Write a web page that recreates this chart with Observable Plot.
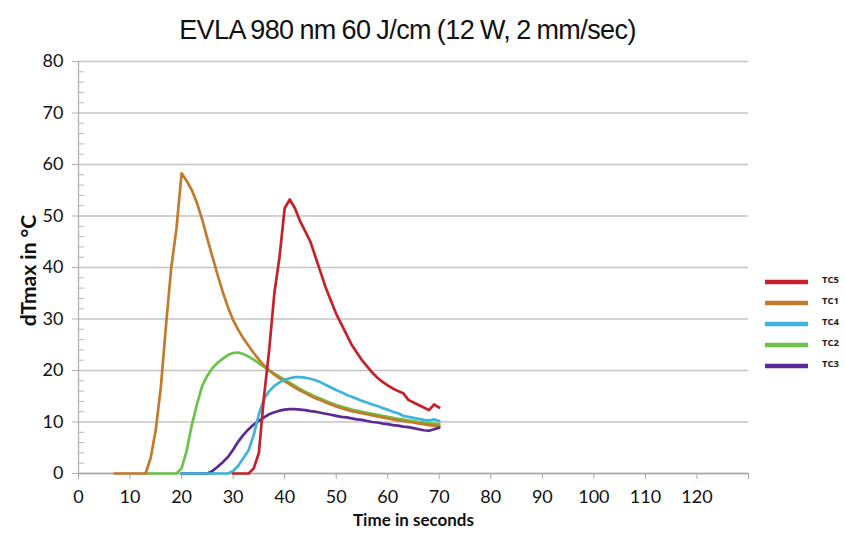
<!DOCTYPE html>
<html>
<head>
<meta charset="utf-8">
<script src="https://cdn.jsdelivr.net/npm/d3@7"></script>
<script src="https://cdn.jsdelivr.net/npm/@observablehq/plot@0.6"></script>
<style>
  html, body { margin: 0; padding: 0; background: #fff; }
  #wrap { position: relative; width: 845px; height: 533px; overflow: hidden; }
  #title { position: absolute; left: 0; top: 15px; width: 815px; text-align: center;
           font-family: "Liberation Sans", Arial, sans-serif; font-size: 27px; color: #111; letter-spacing: -0.6px; word-spacing: -1px; }
  #legend { position: absolute; left: 765px; top: 272px; font-family: "Open Sans", sans-serif;
            font-size: 9.5px; font-weight: 700; color: #222; }
  .item { position: relative; height: 21px; }
  .item span { position: absolute; left: 57px; top: 1px; }
  .item svg { position: absolute; left: 0; top: 6px; }
</style>
</head>
<body>
<div id="wrap">
  <div id="title">EVLA 980 nm 60 J/cm (12 W, 2 mm/sec)</div>
  <div id="chart"></div>
  <div id="legend"></div>
</div>
<script>
// Series names, colours (legend order)
const seriesNames = ["TC5", "TC1", "TC4", "TC2", "TC3"];
const seriesColors = ["#c8202a", "#c47a2c", "#3cb4dc", "#6cc24a", "#5b2a96"];

// Axis ticks
const xTicks = [0, 10, 20, 30, 40, 50, 60, 70, 80, 90, 100, 110, 120];
const xTickMarks = [0, 10, 20, 30, 40, 50, 60, 70, 80, 90, 100, 110, 120, 130];
const yTicks = [0, 10, 20, 30, 40, 50, 60, 70, 80];
const yMinor = [2, 4, 6, 8, 12, 14, 16, 18, 22, 24, 26, 28, 32, 34, 36, 38, 42, 44, 46, 48, 52, 54, 56, 58, 62, 64, 66, 68, 72, 74, 76, 78];

// Readings, one value per second, starting at the given second
const tc1Start = 7;
const tc1 = [0, 0, 0, 0, 0, 0, 0, 3, 8.5, 17, 29, 40, 47.5, 58.3, 56.8, 55, 52.5, 49.3, 45.6, 42,
  38.5, 35.2, 32.3, 29.8, 27.9, 26.2, 24.8, 23.4, 22.1, 21, 20, 19.2, 18.5, 17.9, 17.3, 16.7, 16.1, 15.6,
  15.1, 14.6, 14.2, 13.8, 13.4, 13.0, 12.7, 12.4, 12.1, 11.9, 11.7, 11.5, 11.3, 11.1, 10.9, 10.7, 10.5,
  10.3, 10.2, 10.0, 9.9, 9.7, 9.6, 9.4, 9.3, 9.2];
const tc2Start = 13;
const tc2 = [0, 0, 0, 0, 0, 0, 0, 1, 4.5, 9.5, 13.5, 17, 19, 20.5, 21.5, 22.3, 23, 23.4, 23.5, 23.2,
  22.7, 22.1, 21.4, 20.7, 20, 19.4, 18.8, 18.2, 17.6, 17, 16.4, 15.9, 15.4, 14.9, 14.5, 14.1, 13.7,
  13.3, 13, 12.7, 12.4, 12.2, 12, 11.8, 11.6, 11.4, 11.2, 11, 10.8, 10.6, 10.5, 10.3, 10.2, 10, 9.9,
  9.8, 9.7, 9.6];
const tc4Start = 20;
const tc4 = [0, 0, 0, 0, 0, 0, 0, 0, 0, 0, 0.5, 1.5, 3, 4.5, 7.5, 11.5, 14.5, 16, 17, 17.7, 18.2, 18.5,
  18.7, 18.7, 18.6, 18.4, 18.1, 17.7, 17.2, 16.7, 16.2, 15.8, 15.3, 14.9, 14.5, 14.1, 13.8, 13.4, 13.1,
  12.7, 12.4, 12.0, 11.7, 11.2, 11.0, 10.8, 10.6, 10.4, 10.3, 10.5, 10.2];
const tc3Start = 20;
const tc3 = [0, 0, 0, 0, 0, 0, 0.5, 1.3, 2.2, 3.2, 4.6, 6.2, 7.5, 8.6, 9.5, 10.2, 10.9, 11.5, 11.9,
  12.2, 12.4, 12.5, 12.5, 12.4, 12.3, 12.1, 12.0, 11.8, 11.6, 11.4, 11.2, 11.0, 10.9, 10.7, 10.5, 10.4,
  10.2, 10.0, 9.9, 9.7, 9.6, 9.4, 9.3, 9.1, 9.0, 8.8, 8.6, 8.4, 8.3, 8.6, 8.9];
const tc5Start = 30;
const tc5 = [0, 0, 0, 0, 1, 4, 15, 24, 35, 42, 51.5, 53.2, 51.5, 49, 47, 45, 42, 39, 36, 33.5, 31, 29,
  27, 25, 23.5, 22, 20.8, 19.6, 18.6, 17.8, 17.1, 16.5, 16.0, 15.6, 14.3, 13.8, 13.3, 12.8, 12.3,
  13.4, 12.8];

const drawOrder = [
  ["TC2", tc2Start, tc2],
  ["TC1", tc1Start, tc1],
  ["TC3", tc3Start, tc3],
  ["TC4", tc4Start, tc4],
  ["TC5", tc5Start, tc5]
];
const rows = drawOrder.flatMap(([name, start, vals]) =>
  vals.map((v, i) => ({series: name, t: start + i, v})));

const axisFont = "Lato, 'Open Sans', sans-serif";

const chart = Plot.plot({
  width: 845,
  height: 533,
  marginTop: 61,
  marginBottom: 60,
  marginLeft: 78,
  marginRight: 97,
  style: {fontFamily: axisFont, fontSize: "18px", color: "#111", background: "#fff"},
  x: {domain: [0, 130]},
  y: {domain: [0, 80]},
  color: {domain: seriesNames, range: seriesColors},
  marks: [
    Plot.gridY(yTicks, {stroke: "#c4c4c4", strokeOpacity: 1, strokeWidth: 1.3}),
    Plot.ruleX([0], {stroke: "#b0b0b0", strokeWidth: 1.3}),
    Plot.ruleY([0], {stroke: "#a8a8a8", strokeWidth: 1.6}),
    Plot.axisY(yTicks, {tickSize: 6, tickPadding: 9, stroke: "#b0b0b0", fill: "#111", label: null, fontSize: 18}),
    Plot.axisY(yMinor, {tickSize: -6, text: null, stroke: "#b8b8b8", label: null}),
    Plot.axisX(xTickMarks, {tickSize: 6, text: null, stroke: "#a8a8a8", label: null}),
    Plot.axisX(xTicks, {tickSize: 0, tickPadding: 17, fill: "#111", label: null, fontSize: 18}),
    Plot.line(rows, {x: "t", y: "v", z: "series", stroke: "series", strokeWidth: 2.7, strokeLinejoin: "round"}),
    Plot.text(["Time in seconds"], {frameAnchor: "bottom", dy: 52, fontWeight: "bold", fontSize: 17, fill: "#111"}),
    Plot.text(["dTmax in °C"], {frameAnchor: "left", textAnchor: "middle", rotate: -90, dx: -49, dy: 3, fontWeight: "bold", fontSize: 21, fill: "#111"})
  ]
});
document.getElementById("chart").appendChild(chart);

// Legend
const legend = d3.select("#legend");
seriesNames.forEach((name, i) => {
  const item = legend.append("div").attr("class", "item");
  const svg = item.append("svg").attr("width", 46).attr("height", 8);
  svg.append("line").attr("x1", 0).attr("x2", 43).attr("y1", 4).attr("y2", 4)
     .attr("stroke", seriesColors[i]).attr("stroke-width", 4.5);
  item.append("span").text(name);
});
</script>
</body>
</html>
